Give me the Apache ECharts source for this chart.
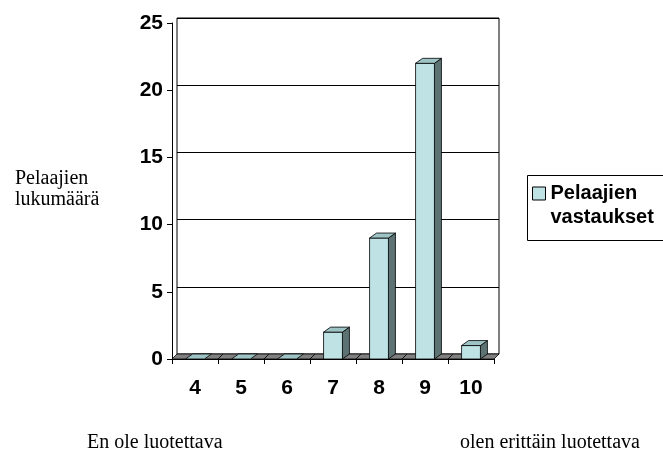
<!DOCTYPE html>
<html>
<head>
<meta charset="utf-8">
<script src="https://cdn.jsdelivr.net/npm/echarts@6/dist/echarts.min.js"></script>
<style>
  html, body { margin: 0; padding: 0; background: #fff; }
  #chart { width: 663px; height: 455px; }
</style>
</head>
<body>
<div id="chart"></div>
<script>
// Answer scale 4..10 and how many players gave each answer
const categories = ['4', '5', '6', '7', '8', '9', '10'];
const counts = [0, 0, 0, 2, 9, 22, 1];
const seriesName = 'Pelaajien vastaukset';
const yTicks = { min: 0, max: 25, interval: 5 };

// colours of the 3-D columns
const FACE = '#bfe3e5';
const TOP = '#9ec3c5';
const SIDE = '#5d7373';
const FLOOR = '#808080';

// depth of the floor/back wall and of each column
const WALL_DX = 5, WALL_DY = 5;
const BAR_DX = 7, BAR_DY = 5;

const chart = echarts.init(document.getElementById('chart'), null, { renderer: 'canvas' });

function renderColumn(params, api) {
  const i = api.value(0);
  const v = api.value(1);
  const base = api.coord([i, 0]);
  const head = api.coord([i, v]);
  const band = api.size([1, 0])[0];
  const bw = band * 0.41;
  const xl = base[0] - bw / 2, xr = base[0] + bw / 2;
  const y0 = base[1], y1 = head[1];
  const fl = base[0] - band / 2, fr = base[0] + band / 2;
  const edge = { stroke: '#000', lineWidth: 0.8 };
  const children = [{
    type: 'polygon',
    shape: { points: [[fl, y0], [fr, y0], [fr + WALL_DX, y0 - WALL_DY], [fl + WALL_DX, y0 - WALL_DY]] },
    style: Object.assign({ fill: FLOOR }, edge)
  }];
  if (v > 0) {
    children.push({
      type: 'polygon',
      shape: { points: [[xr, y1], [xr + BAR_DX, y1 - BAR_DY], [xr + BAR_DX, y0 - BAR_DY], [xr, y0]] },
      style: Object.assign({ fill: SIDE }, edge)
    });
    children.push({
      type: 'rect',
      shape: { x: xl, y: y1, width: bw, height: y0 - y1 },
      style: Object.assign({ fill: FACE }, edge)
    });
  }
  children.push({
    type: 'polygon',
    shape: { points: [[xl, y1], [xl + BAR_DX, y1 - BAR_DY], [xr + BAR_DX, y1 - BAR_DY], [xr, y1]] },
    style: Object.assign({ fill: TOP }, edge)
  });
  return { type: 'group', children: children };
}

const boldFont = { fontFamily: 'Liberation Sans, Arial, sans-serif', fontWeight: 'bold', color: '#000' };
const serif = 'Liberation Serif, Times New Roman, serif';

chart.setOption({
  animation: false,
  backgroundColor: '#fff',
  grid: [
    // front plane: axes and columns
    { left: 172, top: 23, width: 322, height: 336 },
    // back wall with gridlines
    { left: 177, top: 18, width: 322, height: 336, show: true, borderColor: '#000', borderWidth: 1, backgroundColor: '#fff' }
  ],
  xAxis: [
    {
      type: 'category', gridIndex: 0, data: categories, boundaryGap: true,
      axisLine: { lineStyle: { color: '#000', width: 1 } },
      axisTick: { show: true, length: 5, lineStyle: { color: '#000' } },
      axisLabel: Object.assign({ fontSize: 21, margin: 19, interval: 0 }, boldFont),
      splitLine: { show: false }
    },
    {
      type: 'category', gridIndex: 1, data: categories, boundaryGap: true,
      axisLine: { show: false }, axisTick: { show: false }, axisLabel: { show: false }, splitLine: { show: false }
    }
  ],
  yAxis: [
    {
      type: 'value', gridIndex: 0, min: yTicks.min, max: yTicks.max, interval: yTicks.interval,
      axisLine: { show: true, lineStyle: { color: '#000', width: 1 } },
      axisTick: { show: true, length: 5, lineStyle: { color: '#000' } },
      axisLabel: Object.assign({ fontSize: 21, margin: 9 }, boldFont),
      splitLine: { show: false }
    },
    {
      type: 'value', gridIndex: 1, min: yTicks.min, max: yTicks.max, interval: yTicks.interval,
      axisLine: { show: false }, axisTick: { show: false }, axisLabel: { show: false },
      splitLine: { show: true, lineStyle: { color: '#000', width: 1 } }
    }
  ],
  legend: {
    left: 532, top: 157.5, padding: 0,
    icon: 'rect', itemWidth: 13, itemHeight: 13,
    itemStyle: { color: FACE, borderColor: '#000', borderWidth: 1 },
    // a blank leading line keeps the swatch level with the first text line
    formatter: function (name) { return ' \n' + name.replace(' ', '\n'); },
    textStyle: Object.assign({ fontSize: 20, lineHeight: 24 }, boldFont),
    data: [seriesName]
  },
  graphic: [
    { type: 'rect', left: 525, top: 173, shape: { width: 137, height: 65 }, style: { fill: 'none', stroke: '#000', lineWidth: 1 } },
    { type: 'text', left: 15, top: 168, style: { text: 'Pelaajien\nlukumäärä', font: '20px ' + serif, lineHeight: 21, fill: '#000' } },
    { type: 'text', left: 87, top: 433, style: { text: 'En ole luotettava', font: '20px ' + serif, fill: '#000' } },
    { type: 'text', left: 460, top: 433, style: { text: 'olen erittäin luotettava', font: '20px ' + serif, fill: '#000' } }
  ],
  series: [{
    name: seriesName,
    type: 'custom',
    xAxisIndex: 0, yAxisIndex: 0,
    itemStyle: { color: FACE, borderColor: '#000', borderWidth: 1 },
    renderItem: renderColumn,
    data: counts.map(function (v, i) { return [i, v]; }),
    z: 3
  }]
});
</script>
</body>
</html>
